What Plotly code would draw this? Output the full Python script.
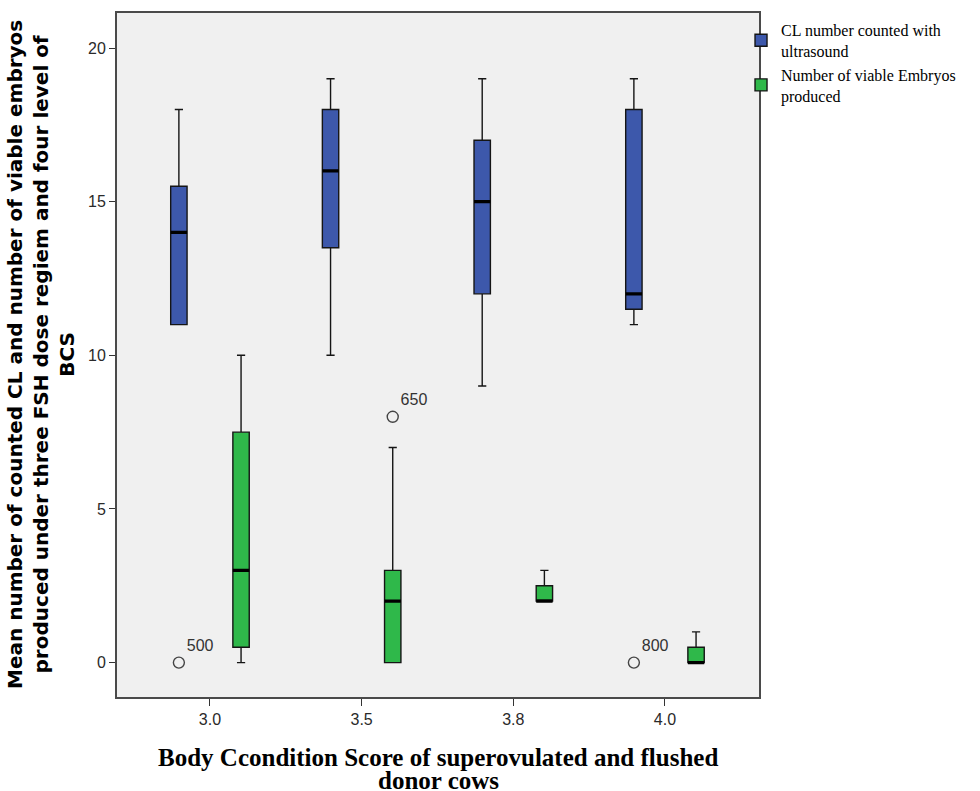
import plotly.graph_objects as go

# ---- data ----
categories = ["3.0", "3.5", "3.8", "4.0"]

cl_low = [11, 10, 9, 11]
cl_q1 = [11, 13.5, 12, 11.5]
cl_med = [14, 16, 15, 12]
cl_q3 = [15.5, 18, 17, 18]
cl_high = [18, 19, 19, 19]

emb_low = [0, 0, 2, 0]
emb_q1 = [0.5, 0, 2, 0]
emb_med = [3, 2, 2, 0]
emb_q3 = [7.5, 3, 2.5, 0.5]
emb_high = [10, 7, 3, 1]

cl_out_cat = ["3.0", "4.0"]
cl_out_val = [0, 0]
cl_out_lab = ["500", "800"]

emb_out_cat = ["3.5"]
emb_out_val = [8]
emb_out_lab = ["650"]

# ---- style ----
BLUE = "#3D58AB"
GREEN = "#2FB84A"
OFFSET = 0.205
BOXW = 0.108
FONT_SANS = "Liberation Sans, Arial, sans-serif"
FONT_SERIF = "Liberation Serif, Times New Roman, serif"

idx = {c: i for i, c in enumerate(categories)}


def pos(cats, off):
    return [idx[c] + off for c in cats]


fig = go.Figure()


def add_series(name, color, off, low, q1, med, q3, high, out_cat, out_val, out_lab):
    xs = pos(categories, off)
    fig.add_trace(go.Box(
        name=name, x=xs, lowerfence=low, q1=q1, median=med, q3=q3, upperfence=high,
        width=BOXW, whiskerwidth=0.5, fillcolor=color,
        line=dict(color="#151515", width=1.4), boxpoints=False,
        showlegend=True, hoverinfo="skip",
    ))
    # thick median line overlay
    fig.add_trace(go.Box(
        x=xs, lowerfence=med, q1=med, median=med, q3=med, upperfence=med,
        width=BOXW, whiskerwidth=0, fillcolor="rgba(0,0,0,0)",
        line=dict(color="black", width=3.2), boxpoints=False,
        showlegend=False, hoverinfo="skip",
    ))
    fig.add_trace(go.Scatter(
        x=pos(out_cat, off), y=out_val, text=out_lab, mode="markers+text",
        textposition="top right",
        textfont=dict(family=FONT_SANS, size=16, color="#333333"),
        marker=dict(symbol="circle-open", size=11, color="#444444", line=dict(width=1.4)),
        showlegend=False, hoverinfo="skip", cliponaxis=False,
    ))


add_series("CL number counted with<br>ultrasound", BLUE, -OFFSET,
           cl_low, cl_q1, cl_med, cl_q3, cl_high, cl_out_cat, cl_out_val, cl_out_lab)
add_series("Number of viable Embryos<br>produced", GREEN, OFFSET,
           emb_low, emb_q1, emb_med, emb_q3, emb_high, emb_out_cat, emb_out_val, emb_out_lab)

fig.update_layout(
    width=980, height=791,
    margin=dict(l=117, r=221, t=13, b=94),
    paper_bgcolor="white", plot_bgcolor="#F0F0F0",
    boxmode="overlay",
    showlegend=True,
    legend=dict(
        x=0.972, xanchor="left", y=1.0, yanchor="top",
        font=dict(family=FONT_SERIF, size=16, color="black"),
        bgcolor="rgba(0,0,0,0)", itemwidth=30, tracegroupgap=0,
    ),
    xaxis=dict(
        range=[-0.613, 3.62], tickmode="array",
        tickvals=list(range(len(categories))), ticktext=categories,
        showgrid=False, zeroline=False,
        showline=True, mirror=True, linecolor="#4a4a4a", linewidth=2,
        ticks="outside", ticklen=7, tickcolor="#333333", tickwidth=1.4,
        tickfont=dict(family=FONT_SANS, size=16, color="#2a2a2a"),
    ),
    yaxis=dict(
        range=[-1.12, 21.14], tickvals=[0, 5, 10, 15, 20],
        showgrid=False, zeroline=False,
        showline=True, mirror=True, linecolor="#4a4a4a", linewidth=2,
        ticks="outside", ticklen=6, tickcolor="#333333", tickwidth=1.4,
        tickfont=dict(family=FONT_SANS, size=16, color="#2a2a2a"),
    ),
    annotations=[
        dict(
            text="<b>Mean number of counted CL and number of viable embryos<br>"
                 "produced under three FSH dose regiem and four level of<br>BCS</b>",
            xref="paper", yref="paper", x=0, y=0.5, xanchor="right", yanchor="middle",
            xshift=-36, textangle=-90, showarrow=False,
            font=dict(family="DejaVu Sans, sans-serif", size=20, color="black"),
        ),
        dict(
            text="<b>Body Ccondition Score of superovulated and flushed</b>",
            xref="paper", yref="paper", x=0.5, y=0, xanchor="center", yanchor="middle",
            yshift=-60, showarrow=False,
            font=dict(family=FONT_SERIF, size=25, color="black"),
        ),
        dict(
            text="<b>donor cows</b>",
            xref="paper", yref="paper", x=0.5, y=0, xanchor="center", yanchor="middle",
            yshift=-83, showarrow=False,
            font=dict(family=FONT_SERIF, size=25, color="black"),
        ),
    ],
)

fig.write_html("out.html", config={"displayModeBar": False},
               post_script="document.body.style.margin='0';")
